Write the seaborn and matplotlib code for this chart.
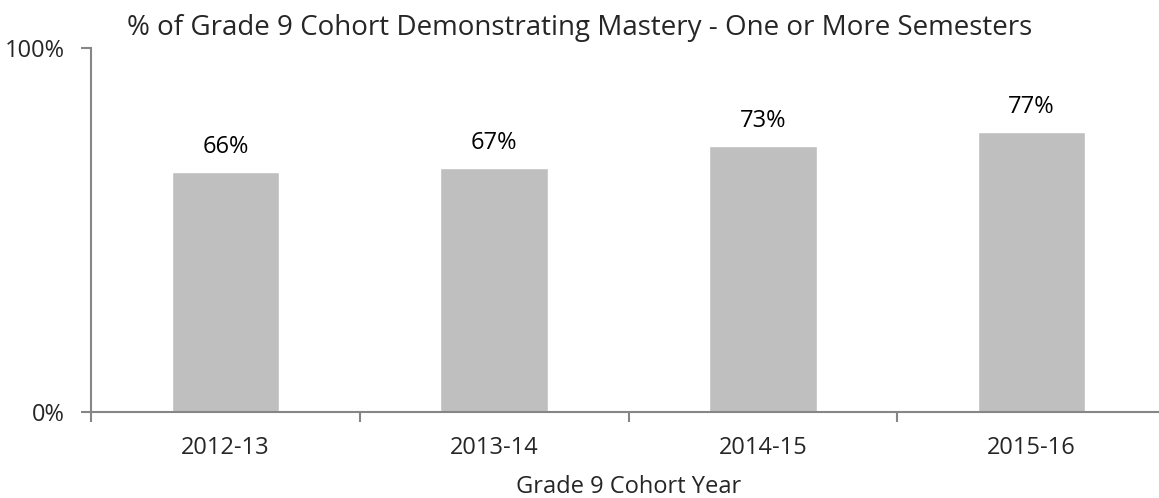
import numpy as np
import pandas as pd
import matplotlib
matplotlib.use("Agg")
import matplotlib.pyplot as plt
import seaborn as sns

# chart data
years = ["2012-13", "2013-14", "2014-15", "2015-16"]
mastery = [0.66, 0.67, 0.73, 0.77]
bar_labels = ["66%", "67%", "73%", "77%"]

sns.set_style("white")
plt.rcParams['font.family'] = ['Open Sans', 'DejaVu Sans']

df = pd.DataFrame({"year": years, "mastery": mastery})

fig = plt.figure(figsize=(11.59, 4.98), dpi=100)
# axes runs slightly past the right edge of the figure, like the original
ax = fig.add_axes([91 / 1159, 86 / 498, 1075 / 1159, 364 / 498])

sns.barplot(data=df, x="year", y="mastery", color="#BFBFBF", width=0.4,
            saturation=1, ax=ax)

# Data labels
for i, (v, lab) in enumerate(zip(mastery, bar_labels)):
    ax.text(i, v + 0.036, lab, ha="center", va="bottom", fontsize=17, color="black")

ax.set_xlim(-0.5, 3.5)
ax.set_ylim(0, 1)

spine_col = "#868686"
for s in ["top", "right"]:
    ax.spines[s].set_visible(False)
for s in ["left", "bottom"]:
    ax.spines[s].set_color(spine_col)
    ax.spines[s].set_linewidth(1.5)

ax.set_yticks([0, 1])
ax.set_yticklabels(["0%", "100%"], fontsize=17)
ax.tick_params(axis="y", left=True, length=7, width=1.5, color=spine_col, pad=12)

ax.set_xticks(range(len(years)))
ax.set_xticklabels(years, fontsize=17)
ax.set_xticks(np.arange(-0.5, 4, 1), minor=True)
ax.tick_params(axis="x", which="major", bottom=False, length=0, pad=17)
ax.tick_params(axis="x", which="minor", bottom=True, length=7, width=1.5, color=spine_col)

ax.set_xlabel("Grade 9 Cohort Year", fontsize=17, labelpad=11)
ax.set_ylabel("")

fig.text(0.5, 0.915, "% of Grade 9 Cohort Demonstrating Mastery - One or More Semesters",
         ha="center", va="bottom", fontsize=20)

plt.savefig("out.png", dpi=100)
